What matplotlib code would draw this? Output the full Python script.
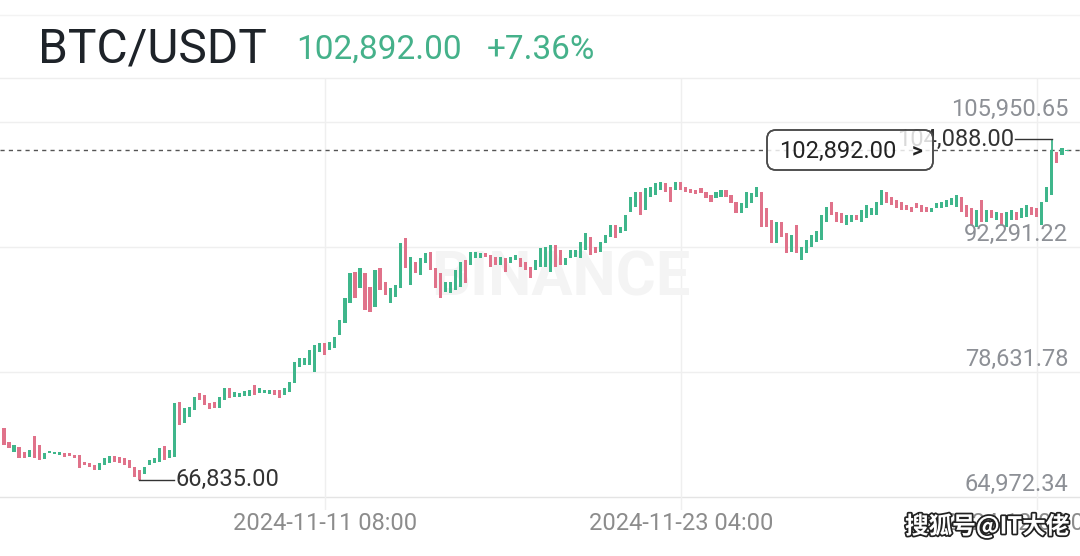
import numpy as np
import matplotlib
matplotlib.use('Agg')
import matplotlib.pyplot as plt
import matplotlib.patheffects as pe
from matplotlib.patches import FancyBboxPatch
from matplotlib.transforms import IdentityTransform

# 4h candles, first one 2024-10-31 16:00
opens = [72512, 70981, 69888, 70435, 69888, 69342, 71637, 70654, 69124, 69779,
         69670, 69561, 69779, 69779, 69561, 69561, 68796, 68687, 68468, 67922,
         68468, 68687, 69451, 69342, 69233, 69015, 68250, 67922, 67485, 68468,
         68687, 68796, 70544, 69233, 69342, 75352, 73058, 73714, 74479, 76336,
         76118, 75243, 75352, 74697, 75571, 76883, 75899, 75899, 76008, 76008,
         77211, 76336, 76336, 76227, 76664, 76664, 76118, 76445, 77429, 79178,
         79397, 79397, 78631, 80816, 81800, 81035, 81254, 82675, 83986, 86171,
         89560, 87811, 89450, 87920, 85734, 89997, 88466, 86171, 86827, 87811,
         93275, 88139, 90652, 89232, 90542, 91745, 89997, 89450, 87373, 87264,
         87592, 87920, 90870, 90324, 91089, 91089, 91635, 91417, 91198, 90324,
         91089, 90542, 90870, 91089, 90652, 90105, 89778, 90105, 90105, 89560,
         92510, 91963, 90324, 91089, 91198, 91089, 91963, 93384, 92291, 91745,
         92728, 93384, 94696, 93821, 94040, 96116, 96662, 98301, 96334, 97755,
         97974, 98520, 99285, 98847, 98520, 99394, 98847, 98629, 98520, 98738,
         98301, 97974, 97646, 97755, 98520, 97974, 97208, 96006, 96553, 97099,
         97755, 98301, 96553, 95242, 92728, 95023, 93821, 91745, 94696, 90870,
         91635, 92291, 92837, 93056, 95023, 97208, 96116, 96006, 94696, 95023,
         95788, 95023, 95460, 95788, 95788, 96880, 98301, 97755, 97427, 97208,
         96880, 96662, 97099, 96880, 96662, 96116, 96553, 96553, 96662, 96880,
         96662, 97755, 96880, 96553, 94477, 97427, 95023, 96334, 95242, 96006,
         94477, 95242, 96116, 95460, 95570, 96662, 96553, 94696, 97208, 97974,
         102672, 102345, 102780]

closes = [70654, 70326, 70654, 69233, 69233, 70107, 69233, 69015, 69779, 69998,
          69888, 69888, 69342, 69451, 69233, 68140, 68468, 68250, 67922, 68687,
          69233, 69451, 68796, 68687, 68468, 68140, 67157, 66835, 68250, 69015,
          69233, 70326, 69015, 70107, 75243, 72840, 74697, 74806, 75899, 75571,
          75025, 74588, 74697, 75899, 76883, 75790, 76445, 76336, 76555, 76664,
          76118, 76883, 76664, 76664, 76118, 75790, 76883, 77538, 79724, 80162,
          80162, 81035, 81582, 81800, 80489, 81910, 82456, 84314, 86718, 89450,
          86718, 89997, 85407, 85188, 89778, 87592, 87046, 87811, 88139, 92728,
          89997, 91198, 89450, 91089, 91635, 89778, 87811, 86718, 88466, 88466,
          89778, 90652, 88357, 91745, 91745, 91635, 91198, 90105, 90324, 91198,
          89560, 91198, 91417, 90105, 89778, 88903, 90870, 92182, 92291, 92510,
          90105, 90324, 91089, 91963, 91963, 92837, 93821, 91417, 91635, 92837,
          93603, 94696, 93275, 94477, 95788, 97755, 98301, 95788, 98738, 98847,
          99285, 99394, 98301, 97208, 99394, 98520, 98301, 98192, 98083, 98192,
          97646, 97208, 98301, 98520, 97755, 97099, 96006, 97099, 98301, 98192,
          98847, 94477, 94477, 92728, 95023, 93384, 91635, 93603, 91635, 92291,
          93056, 93603, 94040, 95788, 96662, 95788, 95023, 94914, 95788, 95788,
          95242, 96334, 96880, 96553, 97208, 98520, 97099, 96880, 96553, 96334,
          96334, 96116, 96553, 96116, 96116, 96553, 97099, 97208, 97427, 97646,
          97974, 96116, 95570, 94696, 96334, 95023, 96334, 95460, 96116, 94696,
          96116, 96334, 95242, 96553, 96880, 95788, 95570, 97208, 98847, 102891,
          101470, 103110, 102892]

assert len(opens) == len(closes)

price_levels = [105950.65, 92291.22, 78631.78, 64972.34]
date_ticks = [64, 135, 206]
date_labels = ['2024-11-11 08:00', '2024-11-23 04:00', '2024-12-05 00:00']
last_price = 102892.00
change_pct = '+7.36%'
low_idx, low_val = 27, 66835.00
high_idx, high_val = 209, 104088.00

GREEN = '#3fb68b'
RED = '#e0728a'
GRID = '#efefef'

plt.rcParams['font.family'] = ['Roboto', 'DejaVu Sans']

W, H = 1080, 556
fig = plt.figure(figsize=(W / 100, H / 100), dpi=100)
fig.patch.set_facecolor('white')

def fx(px):
    return px / W

def fy(py):
    return 1 - py / H

# chart area: y px 78..510
ax = fig.add_axes([0, fy(510), 1, (510 - 78) / H])
step = 5.014
ax.set_xlim(-4 / step, (W - 4) / step)
ppx = (price_levels[0] - price_levels[3]) / 375.0   # price per pixel
ax.set_ylim(price_levels[3] - 13 * ppx, price_levels[0] + 44 * ppx)
ax.axis('off')

for i, lv in enumerate(price_levels):
    ax.axhline(lv, color='#e4e4e4' if i == 3 else GRID, lw=1, zorder=0)
    ax.annotate(f'{lv:,.2f}', xy=(0.989, lv), xycoords=('axes fraction', 'data'),
                xytext=(0, 9), textcoords='offset points', ha='right', va='center',
                fontsize=17, color='#8d9096', zorder=6)
for t in date_ticks:
    ax.axvline(t, color=GRID, lw=1, zorder=0)

# faint watermark
ax.text(111, 88800, 'BINANCE', fontsize=44, fontweight='bold', color='#f4f4f4',
        ha='center', va='center', zorder=1)

x = np.arange(len(opens))
o = np.array(opens, dtype=float)
c = np.array(closes, dtype=float)
cols = np.where(c >= o, GREEN, RED)
ax.bar(x, np.maximum(np.abs(c - o), 150), bottom=np.minimum(o, c), width=0.62,
       color=cols, linewidth=0, zorder=3)

# current price line
ax.axhline(last_price, color='#555555', lw=1, ls=(0, (3, 3)), zorder=2)

# low marker
ax.plot([low_idx, low_idx + 7], [low_val, low_val], color='#333333', lw=1, zorder=4)
ax.text(low_idx + 7.3, low_val, f'{low_val:,.2f}', fontsize=17, color='#333333',
        ha='left', va='center', zorder=4)

# high marker
ax.vlines(high_idx, closes[high_idx], high_val, color=GREEN, lw=1.3, zorder=3)
ax.plot([high_idx - 7.4, high_idx], [high_val, high_val], color='#333333', lw=1, zorder=4)
ax.text(high_idx - 7.6, high_val, f'{high_val:,.2f}', fontsize=17, color='#333333',
        ha='right', va='center', zorder=4)

# price box (semi-opaque, covers part of the high label like the app does)
box = FancyBboxPatch((767, H - 170), 166, 40, boxstyle='round,pad=0,rounding_size=9',
                     transform=IdentityTransform(), facecolor='white', alpha=0.82,
                     edgecolor='#4a4a4a', linewidth=1.2)
fig.add_artist(box)
box_edge = FancyBboxPatch((767, H - 170), 166, 40, boxstyle='round,pad=0,rounding_size=9',
                          transform=IdentityTransform(), facecolor='none',
                          edgecolor='#4a4a4a', linewidth=1.2)
fig.add_artist(box_edge)
fig.text(fx(779), fy(151), f'{last_price:,.2f}', fontsize=17, color='#222222',
         ha='left', va='center')
fig.text(fx(917), fy(151), '>', fontsize=15, fontweight='bold', color='#222222',
         ha='center', va='center')

# header
fig.add_artist(plt.Line2D([0, 1], [fy(78), fy(78)], color='#eeeeee', lw=1))
fig.add_artist(plt.Line2D([0, 1], [fy(15), fy(15)], color='#f3f3f3', lw=1))
fig.text(fx(38), fy(62), 'BTC/USDT', fontsize=34.5, color='#1e2329', ha='left', va='baseline')
fig.text(fx(296), fy(59), f'{last_price:,.2f}', fontsize=24, color='#45b18a',
         ha='left', va='baseline')
fig.text(fx(487), fy(59), change_pct, fontsize=24, color='#45b18a', ha='left', va='baseline')

# date labels
for t, lab in zip(date_ticks, date_labels):
    fig.text(fx(4 + t * step), fy(524), lab, fontsize=17, color='#8c8c8c',
             ha='center', va='center')

fig.text(fx(905), fy(526), '搜狐号@IT大佬', fontsize=17, fontweight='bold', color='white',
         family=['Noto Sans CJK SC', 'DejaVu Sans'], ha='left', va='center',
         path_effects=[pe.withStroke(linewidth=2.5, foreground='#222222')])

fig.savefig('out.png', dpi=100)
